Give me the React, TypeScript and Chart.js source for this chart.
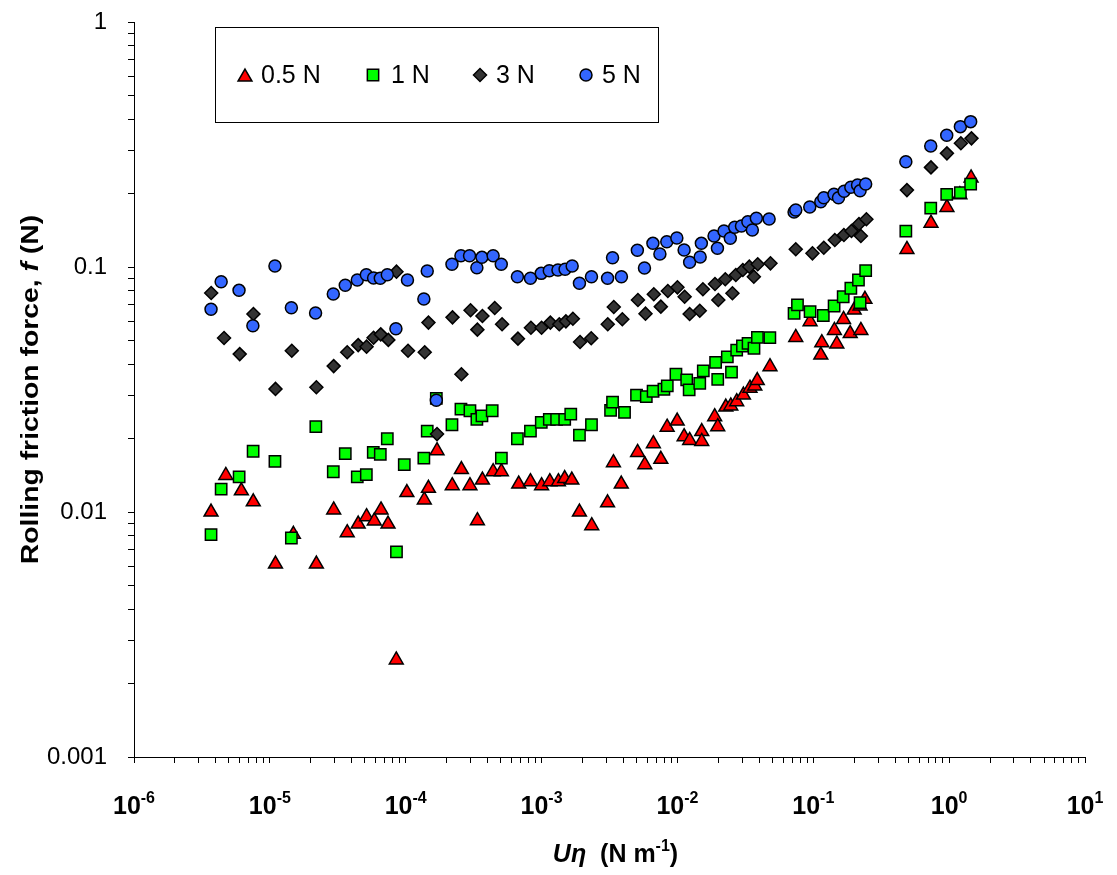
import React, { useEffect, useRef } from 'react';
import { Chart, registerables } from 'chart.js';

Chart.register(...registerables);

const FONT = '"Liberation Sans", Arial, Helvetica, sans-serif';

// ---------- data ----------
const seriesLabels = ['0.5 N', '1 N', '3 N', '5 N'];

const x05 = [3.69e-6, 4.74e-6, 6.17e-6, 7.55e-6, 1.1e-5, 1.49e-5, 2.2e-5, 2.95e-5, 3.71e-5, 4.47e-5, 5.15e-5, 5.87e-5, 6.58e-5, 7.41e-5, 8.52e-5, 1.02e-4, 1.37e-4, 1.47e-4, 1.7e-4, 2.2e-4, 2.57e-4, 2.97e-4, 3.37e-4, 3.67e-4, 4.4e-4, 5.06e-4, 6.79e-4, 8.28e-4, 1.0e-3, 1.15e-3, 1.33e-3, 1.48e-3, 1.67e-3, 1.9e-3, 2.34e-3, 3.06e-3, 3.38e-3, 3.86e-3, 5.09e-3, 5.75e-3, 6.65e-3, 7.55e-3, 8.4e-3, 9.96e-3, 1.12e-2, 1.23e-2, 1.51e-2, 1.51e-2, 1.88e-2, 1.98e-2, 2.27e-2, 2.47e-2, 2.73e-2, 3.06e-2, 3.42e-2, 3.71e-2, 3.87e-2, 4.8e-2, 7.43e-2, 9.47e-2, 0.1155, 0.1136, 0.143, 0.149, 0.167, 0.187, 0.2, 0.221, 0.224, 0.24, 0.489, 0.735, 0.963, 1.2, 1.45];
const y05 = [0.01, 0.0141, 0.0122, 0.011, 0.00613, 0.00811, 0.00613, 0.0102, 0.00823, 0.00893, 0.00957, 0.00919, 0.0102, 0.00893, 0.00249, 0.012, 0.0112, 0.0125, 0.0178, 0.0128, 0.0149, 0.0128, 0.00922, 0.0135, 0.0146, 0.0146, 0.013, 0.0133, 0.0128, 0.0133, 0.0133, 0.0137, 0.0135, 0.01, 0.00879, 0.0109, 0.0159, 0.013, 0.0175, 0.0156, 0.019, 0.0164, 0.0222, 0.0235, 0.0203, 0.0196, 0.0213, 0.0194, 0.0245, 0.0223, 0.0268, 0.0271, 0.0282, 0.03, 0.032, 0.0327, 0.0344, 0.0392, 0.0516, 0.0598, 0.0491, 0.0437, 0.0551, 0.0485, 0.0611, 0.0535, 0.0667, 0.0693, 0.0551, 0.0738, 0.118, 0.151, 0.175, 0.197, 0.231];

const x1 = [3.69e-6, 4.38e-6, 5.94e-6, 7.53e-6, 1.09e-5, 1.44e-5, 2.18e-5, 2.93e-5, 3.59e-5, 4.4e-5, 5.13e-5, 5.77e-5, 6.5e-5, 7.32e-5, 8.55e-5, 9.76e-5, 1.44e-4, 1.36e-4, 1.68e-4, 2.19e-4, 2.55e-4, 2.97e-4, 3.34e-4, 3.64e-4, 4.33e-4, 5.06e-4, 6.64e-4, 8.28e-4, 9.95e-4, 1.14e-3, 1.29e-3, 1.48e-3, 1.64e-3, 1.9e-3, 2.33e-3, 3.22e-3, 3.33e-3, 4.08e-3, 5.0e-3, 5.9e-3, 6.62e-3, 7.95e-3, 8.42e-3, 9.75e-3, 1.17e-2, 1.22e-2, 1.46e-2, 1.55e-2, 1.91e-2, 1.98e-2, 2.33e-2, 2.5e-2, 2.73e-2, 3.01e-2, 3.31e-2, 3.66e-2, 3.88e-2, 4.79e-2, 7.22e-2, 7.65e-2, 9.47e-2, 0.1185, 0.1423, 0.166, 0.189, 0.215, 0.221, 0.243, 0.48, 0.732, 0.96, 1.21, 1.44];
const y1 = [0.00808, 0.0124, 0.0139, 0.0177, 0.0161, 0.00783, 0.0223, 0.0146, 0.0173, 0.0139, 0.0142, 0.0175, 0.0172, 0.0199, 0.00687, 0.0156, 0.0214, 0.0166, 0.0291, 0.0227, 0.0263, 0.0259, 0.0239, 0.0247, 0.0259, 0.0166, 0.0199, 0.0214, 0.0232, 0.0239, 0.0239, 0.0239, 0.0251, 0.0206, 0.0227, 0.026, 0.0281, 0.0255, 0.03, 0.0296, 0.0311, 0.0317, 0.0327, 0.0365, 0.0346, 0.0315, 0.0335, 0.0377, 0.0408, 0.0348, 0.043, 0.0372, 0.0458, 0.0476, 0.0488, 0.0466, 0.0516, 0.0515, 0.0647, 0.07, 0.0657, 0.0634, 0.0693, 0.0756, 0.0819, 0.0885, 0.0715, 0.0966, 0.14, 0.174, 0.198, 0.201, 0.218];

const x3 = [3.7e-6, 4.6e-6, 6.0e-6, 7.57e-6, 1.1e-5, 1.45e-5, 2.2e-5, 2.95e-5, 3.71e-5, 4.47e-5, 5.15e-5, 5.8e-5, 6.55e-5, 7.45e-5, 8.55e-5, 1.04e-4, 1.38e-4, 1.47e-4, 1.7e-4, 2.21e-4, 2.57e-4, 3.0e-4, 3.37e-4, 3.67e-4, 4.52e-4, 5.12e-4, 6.7e-4, 8.35e-4, 1.0e-3, 1.16e-3, 1.35e-3, 1.51e-3, 1.7e-3, 1.92e-3, 2.32e-3, 3.07e-3, 3.4e-3, 3.93e-3, 5.12e-3, 5.82e-3, 6.7e-3, 7.55e-3, 8.5e-3, 1.0e-2, 1.13e-2, 1.23e-2, 1.46e-2, 1.54e-2, 1.89e-2, 2.0e-2, 2.25e-2, 2.54e-2, 2.69e-2, 3.03e-2, 3.38e-2, 3.65e-2, 3.9e-2, 4.84e-2, 7.43e-2, 9.86e-2, 0.1195, 0.144, 0.168, 0.191, 0.224, 0.217, 0.246, 0.489, 0.735, 0.963, 1.22, 1.46];
const y3 = [0.0783, 0.0513, 0.0441, 0.0643, 0.0318, 0.0455, 0.0323, 0.0394, 0.0449, 0.048, 0.0473, 0.0514, 0.0531, 0.0504, 0.0957, 0.0455, 0.0449, 0.0593, 0.0208, 0.0623, 0.0365, 0.0666, 0.0555, 0.0631, 0.068, 0.0584, 0.051, 0.0565, 0.0565, 0.0593, 0.0584, 0.06, 0.0615, 0.0494, 0.0512, 0.0584, 0.0687, 0.0612, 0.0733, 0.0645, 0.0774, 0.0689, 0.0798, 0.0826, 0.0756, 0.0643, 0.0663, 0.0811, 0.0852, 0.0733, 0.0891, 0.0781, 0.0928, 0.0972, 0.1003, 0.0913, 0.1026, 0.1035, 0.1181, 0.1137, 0.1199, 0.1289, 0.1351, 0.1402, 0.1338, 0.1498, 0.1566, 0.206, 0.255, 0.291, 0.32, 0.335];

const x5 = [3.69e-6, 4.38e-6, 5.93e-6, 7.5e-6, 1.09e-5, 1.44e-5, 2.17e-5, 2.93e-5, 3.59e-5, 4.4e-5, 5.13e-5, 5.8e-5, 6.5e-5, 7.32e-5, 8.47e-5, 1.03e-4, 1.44e-4, 1.36e-4, 1.68e-4, 2.19e-4, 2.55e-4, 2.95e-4, 3.34e-4, 3.64e-4, 4.4e-4, 5.05e-4, 6.64e-4, 8.28e-4, 9.94e-4, 1.14e-3, 1.32e-3, 1.49e-3, 1.68e-3, 1.9e-3, 2.33e-3, 3.06e-3, 3.33e-3, 3.87e-3, 5.07e-3, 5.72e-3, 6.6e-3, 7.43e-3, 8.35e-3, 9.9e-3, 1.12e-2, 1.23e-2, 1.47e-2, 1.5e-2, 1.86e-2, 1.97e-2, 2.2e-2, 2.45e-2, 2.64e-2, 2.96e-2, 3.3e-2, 3.56e-2, 3.81e-2, 4.73e-2, 7.22e-2, 7.43e-2, 9.42e-2, 0.1136, 0.1195, 0.142, 0.1533, 0.1686, 0.189, 0.2117, 0.221, 0.243, 0.48, 0.732, 0.96, 1.21, 1.44];
const y5 = [0.0672, 0.0871, 0.0803, 0.0576, 0.1009, 0.0682, 0.0649, 0.0776, 0.0842, 0.0885, 0.093, 0.0902, 0.0899, 0.093, 0.056, 0.0885, 0.0963, 0.074, 0.0286, 0.1026, 0.1112, 0.1112, 0.0993, 0.1095, 0.1112, 0.1026, 0.0913, 0.0899, 0.0942, 0.0966, 0.0972, 0.0979, 0.1009, 0.0858, 0.0913, 0.0899, 0.1091, 0.0913, 0.117, 0.0991, 0.1249, 0.113, 0.1268, 0.1313, 0.1173, 0.1045, 0.1098, 0.1249, 0.1338, 0.1192, 0.1402, 0.131, 0.1452, 0.147, 0.1531, 0.1416, 0.158, 0.157, 0.1677, 0.1709, 0.1757, 0.1847, 0.1918, 0.198, 0.1918, 0.2037, 0.2115, 0.2162, 0.2049, 0.2183, 0.269, 0.312, 0.345, 0.374, 0.392];

const xTickExponents = [-6, -5, -4, -3, -2, -1, 0, 1];
const yTickValues = [1, 0.1, 0.01, 0.001];
const yTickLabels = ['1', '0.1', '0.01', '0.001'];

// ---------- styles ----------
const seriesFill = ['#FF0000', '#00FF00', '#333333', '#3366FF'];
const seriesShape = ['triangle', 'rect', 'rectRot', 'circle'];
const seriesRadius = [8, 8, 6.5, 6];
const seriesOrder = [3, 2, 1, 0];

const toPoints = (xs: number[], ys: number[]) => xs.map((x, i) => ({ x, y: ys[i] }));
const seriesData = [toPoints(x05, y05), toPoints(x1, y1), toPoints(x3, y3), toPoints(x5, y5)];

function logTicks(minExp: number, maxExp: number) {
  const t: { value: number; major: boolean }[] = [];
  for (let e = minExp; e < maxExp; e++) {
    for (let m = 1; m <= 9; m++) t.push({ value: m * Math.pow(10, e), major: m === 1 });
  }
  t.push({ value: Math.pow(10, maxExp), major: true });
  return t;
}

function isPow10(v: number) {
  const l = Math.log10(v);
  return Math.abs(l - Math.round(l)) < 1e-9;
}

function drawMarker(ctx: CanvasRenderingContext2D, shape: string, x: number, y: number, r: number) {
  ctx.beginPath();
  if (shape === 'triangle') {
    let rad = 0;
    ctx.moveTo(x + Math.sin(rad) * r, y - Math.cos(rad) * r);
    rad += (2 * Math.PI) / 3;
    ctx.lineTo(x + Math.sin(rad) * r, y - Math.cos(rad) * r);
    rad += (2 * Math.PI) / 3;
    ctx.lineTo(x + Math.sin(rad) * r, y - Math.cos(rad) * r);
    ctx.closePath();
  } else if (shape === 'rect') {
    const s = Math.SQRT1_2 * r;
    ctx.rect(x - s, y - s, 2 * s, 2 * s);
  } else if (shape === 'rectRot') {
    ctx.moveTo(x - r, y);
    ctx.lineTo(x, y - r);
    ctx.lineTo(x + r, y);
    ctx.lineTo(x, y + r);
    ctx.closePath();
  } else {
    ctx.arc(x, y, r, 0, Math.PI * 2);
  }
  ctx.fill();
  ctx.stroke();
}

const decorations = {
  id: 'decorations',
  afterDraw(chart: any) {
    const ctx: CanvasRenderingContext2D = chart.ctx;
    const xs = chart.scales.x;
    const area = chart.chartArea;
    ctx.save();
    ctx.fillStyle = '#000';
    ctx.textBaseline = 'alphabetic';
    ctx.textAlign = 'left';

    // x tick labels 10^n
    for (const e of xTickExponents) {
      const px = xs.getPixelForValue(Math.pow(10, e));
      ctx.font = `bold 25px ${FONT}`;
      const w1 = ctx.measureText('10').width;
      ctx.font = `bold 16px ${FONT}`;
      const expStr = String(e);
      const w2 = ctx.measureText(expStr).width;
      const start = px - (w1 + w2) / 2;
      ctx.font = `bold 25px ${FONT}`;
      ctx.fillText('10', start, 814);
      ctx.font = `bold 16px ${FONT}`;
      ctx.fillText(expStr, start + w1, 803);
    }

    // x axis title
    const xParts = [
      { t: 'Uη', f: `italic bold 25px ${FONT}`, dy: 0 },
      { t: '  (N m', f: `bold 25px ${FONT}`, dy: 0 },
      { t: '-1', f: `bold 16px ${FONT}`, dy: -11 },
      { t: ')', f: `bold 25px ${FONT}`, dy: 0 },
    ];
    let total = 0;
    for (const p of xParts) { ctx.font = p.f; total += ctx.measureText(p.t).width; }
    let cx = (area.left + area.right) / 2 - total / 2 + 6;
    for (const p of xParts) {
      ctx.font = p.f;
      ctx.fillText(p.t, cx, 862 + p.dy);
      cx += ctx.measureText(p.t).width;
    }

    // y axis title (rotated, slightly stretched along its length)
    const yParts = [
      { t: 'Rolling friction force, ', f: `bold 24px ${FONT}` },
      { t: 'f', f: `italic bold 24px ${FONT}` },
      { t: ' (N)', f: `bold 24px ${FONT}` },
    ];
    ctx.save();
    ctx.translate(38, (area.top + area.bottom) / 2);
    ctx.rotate(-Math.PI / 2);
    ctx.scale(1.18, 1);
    let ytot = 0;
    for (const p of yParts) { ctx.font = p.f; ytot += ctx.measureText(p.t).width; }
    let cy = -ytot / 2;
    for (const p of yParts) {
      ctx.font = p.f;
      ctx.fillText(p.t, cy, 0);
      cy += ctx.measureText(p.t).width;
    }
    ctx.restore();

    // legend
    ctx.lineWidth = 1;
    ctx.strokeStyle = '#000';
    ctx.fillStyle = '#fff';
    ctx.fillRect(215.5, 27.5, 443, 95);
    ctx.strokeRect(215.5, 27.5, 443, 95);
    const markerX = [245, 373, 480, 586];
    const textX = [261, 391, 496, 602];
    const ly = 75;
    ctx.lineWidth = 1.5;
    for (let i = 0; i < seriesLabels.length; i++) {
      ctx.fillStyle = seriesFill[i];
      ctx.strokeStyle = '#000';
      drawMarker(ctx, seriesShape[i], markerX[i], seriesShape[i] === 'triangle' ? ly + 2 : ly, seriesRadius[i]);
      ctx.fillStyle = '#000';
      ctx.font = `25px ${FONT}`;
      ctx.textBaseline = 'middle';
      ctx.fillText(seriesLabels[i], textX[i], ly + 1);
    }
    ctx.restore();
  },
};

export default function App() {
  const ref = useRef<HTMLCanvasElement>(null);
  useEffect(() => {
    const datasets = seriesLabels.map((label, i) => ({
      label,
      data: seriesData[i],
      order: seriesOrder[i],
      showLine: false,
      pointStyle: seriesShape[i] as any,
      pointRadius: seriesRadius[i],
      pointBackgroundColor: seriesFill[i],
      pointBorderColor: '#000',
      pointBorderWidth: 1.5,
    }));
    const chart = new Chart(ref.current as HTMLCanvasElement, {
      type: 'scatter',
      data: { datasets },
      plugins: [decorations],
      options: {
        responsive: false,
        animation: false,
        devicePixelRatio: 1,
        events: [],
        layout: { padding: { top: 22, right: 32, left: 0, bottom: 0 } },
        plugins: { legend: { display: false }, tooltip: { enabled: false }, title: { display: false } },
        scales: {
          x: {
            type: 'logarithmic',
            min: 1e-6,
            max: 10,
            afterBuildTicks: (s: any) => { s.ticks = logTicks(-6, 1); },
            afterFit: (s: any) => { s.height = 118; s.paddingLeft = 0; s.paddingRight = 0; },
            grid: { display: true, drawOnChartArea: false, drawTicks: true, tickLength: 6, tickColor: '#000', tickWidth: 1 },
            border: { display: true, color: '#000', width: 1 },
            ticks: { display: false, autoSkip: false },
          },
          y: {
            type: 'logarithmic',
            min: 0.001,
            max: 1,
            afterBuildTicks: (s: any) => { s.ticks = logTicks(-3, 0); },
            afterFit: (s: any) => { s.width = 134; s.paddingTop = 0; s.paddingBottom = 0; },
            grid: { display: true, drawOnChartArea: false, drawTicks: true, tickLength: 6, tickColor: '#000', tickWidth: 1 },
            border: { display: true, color: '#000', width: 1 },
            ticks: {
              autoSkip: false,
              padding: 21,
              color: '#000',
              font: { family: FONT, size: 24 },
              callback: (v: any) => {
                const val = Number(v);
                if (!isPow10(val)) return '';
                const idx = yTickValues.findIndex((t) => Math.abs(t - val) / t < 1e-6);
                return idx >= 0 ? yTickLabels[idx] : '';
              },
            },
          },
        },
      },
    });
    return () => chart.destroy();
  }, []);
  return (
    <div style={{ position: 'absolute', left: 0, top: 0, width: 1117, height: 875, background: '#fff' }}>
      <canvas ref={ref} width={1117} height={875} style={{ display: 'block' }} />
    </div>
  );
}
